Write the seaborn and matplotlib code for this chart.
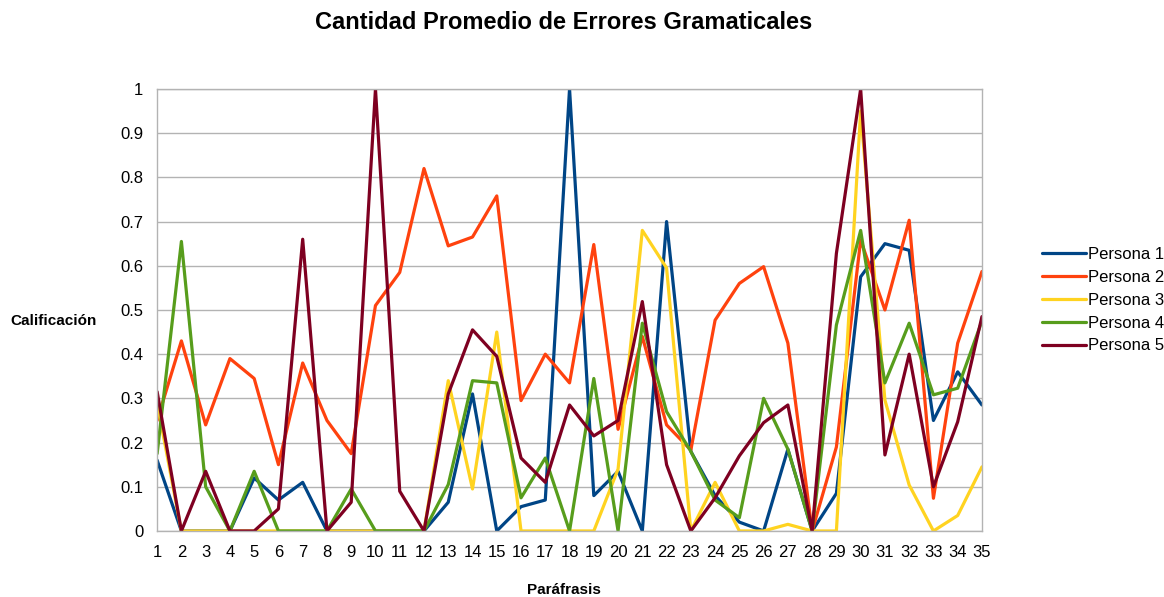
import numpy as np
import pandas as pd
import matplotlib
matplotlib.use("Agg")
import matplotlib.pyplot as plt
import seaborn as sns

parafrasis = list(range(1, 36))

persona_1 = [0.16, 0, 0, 0, 0.12, 0.07, 0.11, 0, 0, 0, 0, 0, 0.065, 0.31, 0, 0.055, 0.07,
             1.0, 0.08, 0.135, 0, 0.70, 0.18, 0.08, 0.02, 0, 0.185, 0, 0.085, 0.575, 0.65,
             0.635, 0.25, 0.36, 0.285]
persona_2 = [0.25, 0.43, 0.24, 0.39, 0.345, 0.15, 0.38, 0.25, 0.175, 0.51, 0.585, 0.82,
             0.645, 0.665, 0.758, 0.295, 0.40, 0.335, 0.648, 0.23, 0.44, 0.24, 0.183, 0.477,
             0.56, 0.598, 0.425, 0, 0.19, 0.658, 0.50, 0.703, 0.074, 0.425, 0.587]
persona_3 = [0.29, 0, 0, 0, 0, 0, 0, 0, 0, 0, 0, 0, 0.34, 0.095, 0.45, 0, 0, 0, 0, 0.14,
             0.68, 0.595, 0, 0.11, 0, 0, 0.015, 0, 0, 0.95, 0.296, 0.104, 0, 0.035, 0.145]
persona_4 = [0.175, 0.655, 0.10, 0, 0.135, 0, 0, 0, 0.095, 0, 0, 0, 0.105, 0.34, 0.335,
             0.075, 0.165, 0, 0.345, 0, 0.47, 0.27, 0.18, 0.07, 0.03, 0.30, 0.185, 0, 0.466,
             0.68, 0.335, 0.47, 0.308, 0.323, 0.475]
persona_5 = [0.315, 0, 0.135, 0, 0, 0.05, 0.66, 0, 0.065, 1.0, 0.09, 0, 0.31, 0.455, 0.395,
             0.165, 0.11, 0.285, 0.215, 0.25, 0.519, 0.15, 0, 0.075, 0.17, 0.245, 0.285, 0,
             0.628, 1.0, 0.172, 0.40, 0.10, 0.247, 0.485]

series = {
    "Persona 1": persona_1,
    "Persona 2": persona_2,
    "Persona 3": persona_3,
    "Persona 4": persona_4,
    "Persona 5": persona_5,
}
colores = ["#004586", "#ff420e", "#ffd320", "#579d1c", "#7e0021"]

df = pd.concat(
    [pd.DataFrame({"Paráfrasis": parafrasis, "Calificación": v, "Persona": k})
     for k, v in series.items()],
    ignore_index=True,
)

sns.set_style("white")
plt.rcParams["font.family"] = ["Liberation Sans", "DejaVu Sans"]
plt.rcParams["text.color"] = "black"
plt.rcParams["xtick.color"] = "black"
plt.rcParams["ytick.color"] = "black"

fig = plt.figure(figsize=(11.64, 5.97), dpi=100)
ax = fig.add_axes([0.135, 0.1106, 0.7086, 0.7404])

sns.lineplot(data=df, x="Paráfrasis", y="Calificación", hue="Persona",
             palette=colores, linewidth=2.3, ax=ax, legend=True)

ax.set_xlim(1, 35)
ax.set_ylim(0, 1)
ax.set_xticks(parafrasis)
ax.set_xticklabels([str(p) for p in parafrasis], fontsize=12)
yt = np.round(np.arange(0, 1.01, 0.1), 1)
ax.set_yticks(yt)
ax.set_yticklabels(["0" if v == 0 else ("1" if v == 1 else f"{v:g}") for v in yt], fontsize=12)
ax.yaxis.grid(True, color="#b3b3b3", linewidth=1)
ax.xaxis.grid(False)
ax.set_axisbelow(True)
for s in ax.spines.values():
    s.set_color("#b3b3b3")
    s.set_linewidth(1)
ax.tick_params(axis="x", length=6, color="#b3b3b3", direction="out", pad=4)
ax.tick_params(axis="y", length=6, color="#b3b3b3", direction="out", pad=4)

ax.set_xlabel("")
ax.set_ylabel("")
fig.text(0.4845, 0.0117, "Paráfrasis", fontsize=11, fontweight="bold", ha="center", va="center")
fig.text(0.046, 0.462, "Calificación", fontsize=11, fontweight="bold", ha="center", va="center")
fig.text(0.4845, 0.962, "Cantidad Promedio de Errores Gramaticales", fontsize=17,
         fontweight="bold", ha="center", va="center")

ax.legend(title=None, loc="center left", bbox_to_anchor=(1.055, 0.522), frameon=False,
          fontsize=12, handlelength=2.6, handletextpad=0.15, labelspacing=0.47)

fig.savefig("out.png", dpi=100)
